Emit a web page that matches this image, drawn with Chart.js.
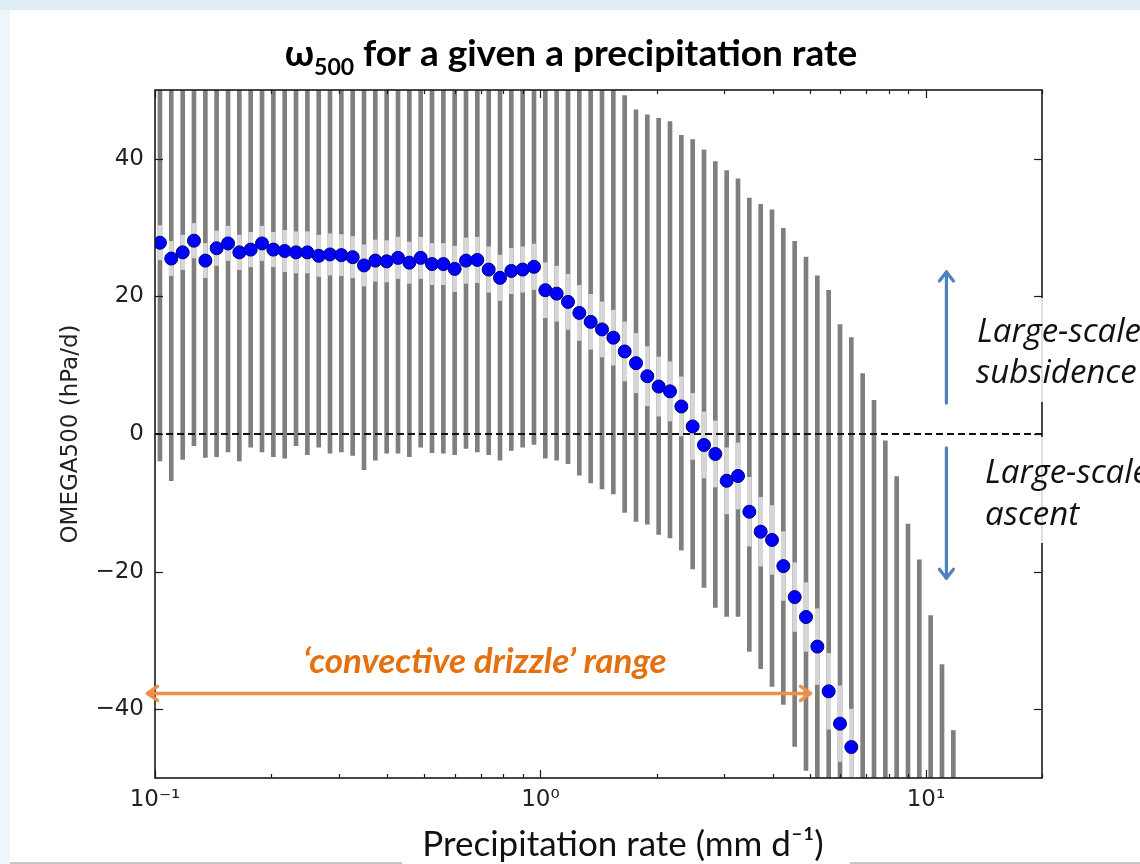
<!DOCTYPE html>
<html>
<head>
<meta charset="utf-8">
<script src="https://cdn.jsdelivr.net/npm/chart.js@4.4.1/dist/chart.umd.min.js"></script>
<style>
  html, body { margin: 0; padding: 0; background: #fff; }
</style>
</head>
<body>
<canvas id="grafico" width="1140" height="864"></canvas>
<script>
// precipitation bins (mm/d)
const precip = [
  0.1030, 0.1102, 0.1180, 0.1262, 0.1351, 0.1445, 0.1547, 0.1655, 0.1771, 0.1895,
  0.2028, 0.2170, 0.2322, 0.2485, 0.2659, 0.2844, 0.3044, 0.3257, 0.3485, 0.3729,
  0.3990, 0.4270, 0.4569, 0.4889, 0.5231, 0.5598, 0.5990, 0.6409, 0.6858, 0.7339,
  0.7852, 0.8402, 0.8990, 0.9620, 1.0294, 1.1015, 1.1786, 1.2612, 1.3495, 1.4440,
  1.5452, 1.6534, 1.7693, 1.8932, 2.0258, 2.1677, 2.3195, 2.4820, 2.6558, 2.8418,
  3.0409, 3.2539, 3.4819, 3.7257, 3.9867, 4.2658, 4.5646, 4.8843, 5.2264, 5.5925,
  5.9841, 6.4033, 6.8518, 7.3317, 7.8452, 8.3946, 8.9826, 9.6117, 10.285, 11.005,
  11.776
];

// mean omega500 (hPa/d), only bins that fall inside the plot
const omega = [
  27.8, 25.5, 26.4, 28.1, 25.2, 27.0, 27.7, 26.4, 26.8, 27.7,
  26.8, 26.6, 26.4, 26.4, 25.9, 26.1, 26.0, 25.7, 24.5, 25.2,
  25.1, 25.6, 24.9, 25.6, 24.7, 24.7, 24.0, 25.2, 25.3, 23.9,
  22.7, 23.7, 23.9, 24.3, 20.9, 20.4, 19.2, 17.6, 16.3, 15.2,
  14.0, 12.0, 10.3, 8.4, 6.9, 6.2, 4.0, 1.1, -1.6, -2.9,
  -6.8, -6.1, -11.3, -14.2, -15.4, -19.2, -23.7, -26.6, -30.9, -37.4,
  -42.1, -45.5
];

// half width of the light band around the mean
const innerHalf = [
  2.5, 2.5, 2.5, 2.5, 2.5, 2.5, 2.5, 2.5, 2.5, 2.5,
  2.5, 3.0, 3.0, 3.0, 3.0, 3.0, 3.0, 3.0, 3.0, 3.0,
  3.0, 3.0, 3.0, 3.0, 3.0, 3.0, 3.3, 3.3, 3.3, 3.3,
  3.3, 3.3, 3.3, 3.3, 4.0, 4.0, 4.0, 4.0, 4.0, 4.0,
  4.0, 4.3, 4.3, 4.3, 4.3, 4.3, 4.3, 4.8, 4.8, 4.8,
  4.8, 4.8, 5.0, 5.0, 5.0, 5.0, 5.0, 5.0, 5.5, 5.5,
  5.5, 5.5
];

// full spread of each bin (grey bars)
const barMin = [
  -3.9, -6.8, -3.7, -1.7, -3.4, -3.3, -2.6, -3.9, -1.9, -2.6,
  -3.3, -3.5, -1.7, -3.0, -1.9, -2.8, -2.6, -3.1, -5.2, -3.8,
  -2.8, -2.8, -3.3, -1.9, -2.7, -2.8, -3.0, -2.1, -2.6, -3.0,
  -3.8, -2.4, -1.9, -1.5, -3.5, -3.8, -4.3, -6.0, -7.1, -8.0,
  -8.7, -11.4, -12.7, -13.1, -14.6, -15.1, -16.9, -19.6, -22.3, -25.2,
  -26.5, -26.5, -31.6, -34.1, -36.7, -39.3, -45.4, -48.9, -60, -60,
  -60, -60, -60, -60, -60, -60, -60, -60, -60, -60,
  -60
];
const barMax = [
  60, 60, 60, 60, 60, 60, 60, 60, 60, 60,
  60, 60, 60, 60, 60, 60, 60, 60, 60, 60,
  60, 60, 60, 60, 60, 60, 60, 60, 60, 60,
  60, 60, 60, 60, 60, 60, 60, 60, 60, 60,
  60, 49.2, 47.1, 46.4, 45.9, 45.4, 43.4, 42.8, 41.3, 39.6,
  38.3, 37.1, 34.3, 33.4, 32.6, 29.9, 28.0, 25.7, 23.0, 20.9,
  15.9, 14.0, 8.8, 4.9, -1.0, -6.2, -13.1, -18.3, -26.4, -33.5,
  -43.1
];

const xMin = 0.1, xMax = 20;
const yMin = -50, yMax = 50;
const yTicks = [-40, -20, 0, 20, 40];
const xMajor = [0.1, 1, 10];
const xMajorLabels = ["10⁻¹", "10⁰", "10¹"];
const xMinor = [0.2, 0.3, 0.4, 0.5, 0.6, 0.7, 0.8, 0.9, 2, 3, 4, 5, 6, 7, 8, 9, 20];

// annotation anchors (data units)
const drizzleFrom = 0.095, drizzleTo = 5.05, drizzleY = -37.7;
const arrowX = 11.3;
const upArrow = [4.5, 23.7];
const downArrow = [-2.0, -21.1];

const rangeData = precip.map((x, i) => ({ x: x, y: [barMin[i], barMax[i]] }));
const innerData = omega.map((w, i) => ({ x: precip[i], y: [w - innerHalf[i], w + innerHalf[i]] }));
const pointData = omega.map((w, i) => ({ x: precip[i], y: w }));
const zeroData = [{ x: xMin, y: 0 }, { x: xMax, y: 0 }];

function line(ctx, x1, y1, x2, y2) {
  ctx.beginPath();
  ctx.moveTo(x1, y1);
  ctx.lineTo(x2, y2);
  ctx.stroke();
}

const decor = {
  id: "decor",

  beforeDraw(chart) {
    const ctx = chart.ctx;
    ctx.save();
    ctx.fillStyle = "#deeef4";
    ctx.fillRect(0, 0, 1140, 864);
    ctx.fillStyle = "#eef6f9";
    ctx.fillRect(0, 10, 10, 854);
    ctx.fillStyle = "#ffffff";
    ctx.fillRect(10, 10, 1130, 854);
    ctx.strokeStyle = "#c6c6c6";
    ctx.lineWidth = 2;
    line(ctx, 10, 863, 1140, 863);
    ctx.fillStyle = "#ffffff";
    ctx.fillRect(402, 852, 448, 12);
    ctx.restore();
  },

  afterDatasetsDraw(chart) {
    const ctx = chart.ctx;
    const { left, right, top, bottom } = chart.chartArea;
    const xs = chart.scales.x;
    const ys = chart.scales.y;
    ctx.save();
    ctx.strokeStyle = "#1a1a1a";
    ctx.lineWidth = 1.2;
    xs.ticks.forEach((t) => {
      const px = Math.round(xs.getPixelForValue(t.value)) + 0.5;
      const len = xMajor.includes(t.value) ? 8 : 4;
      line(ctx, px, bottom, px, bottom - len);
      line(ctx, px, top, px, top + len);
    });
    ys.ticks.forEach((t) => {
      const py = Math.round(ys.getPixelForValue(t.value)) + 0.5;
      line(ctx, left, py, left + 8, py);
      line(ctx, right, py, right - 8, py);
    });
    ctx.lineWidth = 1.6;
    ctx.strokeRect(left, top, right - left, bottom - top);
    ctx.restore();
  },

  afterDraw(chart) {
    const ctx = chart.ctx;
    const xs = chart.scales.x;
    const ys = chart.scales.y;
    ctx.save();

    // title with subscript
    const partA = "ω", partSub = "500", partB = " for a given a precipitation rate";
    const bigFont = "bold 37px Lato";
    const subFont = "bold 23px Lato";
    ctx.font = bigFont;
    const wA = ctx.measureText(partA).width;
    const wB = ctx.measureText(partB).width;
    ctx.font = subFont;
    const wS = ctx.measureText(partSub).width;
    let tx = 571 - (wA + wS + wB) / 2;
    ctx.fillStyle = "#000";
    ctx.textBaseline = "alphabetic";
    ctx.textAlign = "left";
    ctx.font = bigFont;
    ctx.fillText(partA, tx, 66);
    ctx.font = subFont;
    ctx.fillText(partSub, tx + wA, 75);
    ctx.font = bigFont;
    ctx.fillText(partB, tx + wA + wS, 66);

    // x axis title
    ctx.font = "35px Lato";
    ctx.textAlign = "center";
    ctx.fillStyle = "#111";
    ctx.fillText("Precipitation rate (mm d⁻¹)", 623, 856);

    // convective drizzle arrow
    const ay = ys.getPixelForValue(drizzleY);
    const ax1 = xs.getPixelForValue(drizzleFrom);
    const ax2 = xs.getPixelForValue(drizzleTo);
    ctx.strokeStyle = "#f28d45";
    ctx.lineWidth = 3.5;
    ctx.lineCap = "round";
    ctx.lineJoin = "round";
    line(ctx, ax1 + 2, ay, ax2 - 2, ay);
    ctx.beginPath();
    ctx.moveTo(ax1 + 11, ay - 7);
    ctx.lineTo(ax1 + 1, ay);
    ctx.lineTo(ax1 + 11, ay + 7);
    ctx.stroke();
    ctx.beginPath();
    ctx.moveTo(ax2 - 11, ay - 7);
    ctx.lineTo(ax2 - 1, ay);
    ctx.lineTo(ax2 - 11, ay + 7);
    ctx.stroke();
    ctx.font = "italic bold 35px Lato";
    ctx.fillStyle = "#e5700f";
    ctx.textAlign = "center";
    ctx.fillText("‘convective drizzle’ range", 485, 673);

    // subsidence / ascent arrows
    const bx = xs.getPixelForValue(arrowX);
    ctx.strokeStyle = "#4f81bd";
    ctx.lineWidth = 3.2;
    const u0 = ys.getPixelForValue(upArrow[0]);
    const u1 = ys.getPixelForValue(upArrow[1]);
    line(ctx, bx, u0, bx, u1 + 1);
    ctx.beginPath();
    ctx.moveTo(bx - 7, u1 + 10);
    ctx.lineTo(bx, u1 + 1);
    ctx.lineTo(bx + 7, u1 + 10);
    ctx.stroke();
    const d0 = ys.getPixelForValue(downArrow[0]);
    const d1 = ys.getPixelForValue(downArrow[1]);
    line(ctx, bx, d0, bx, d1 - 1);
    ctx.beginPath();
    ctx.moveTo(bx - 7, d1 - 10);
    ctx.lineTo(bx, d1 - 1);
    ctx.lineTo(bx + 7, d1 - 10);
    ctx.stroke();

    // text boxes on the right
    ctx.fillStyle = "rgba(255,255,255,0.82)";
    ctx.fillRect(970, 298, 170, 104);
    ctx.fillRect(970, 437, 170, 106);
    ctx.fillStyle = "#111";
    ctx.textAlign = "left";
    ctx.font = "italic 33px 'Open Sans'";
    ctx.fillText("Large-scale", 977, 342);
    ctx.fillText("subsidence", 976, 383);
    ctx.fillText("Large-scale", 985, 483);
    ctx.fillText("ascent", 985, 525);

    ctx.restore();
  },
};

const ctx = document.getElementById("grafico");

const grafico = new Chart(ctx, {
  type: "scatter",

  data: {
    datasets: [
      {
        type: "bar",
        label: "spread",
        data: rangeData,
        backgroundColor: "#7f7f7f",
        borderWidth: 0,
        barThickness: 4,
        grouped: false,
        order: 4,
      },
      {
        type: "bar",
        label: "error",
        data: innerData,
        backgroundColor: "#d6d6d6",
        borderWidth: 0,
        barThickness: 4,
        grouped: false,
        order: 3,
      },
      {
        type: "line",
        label: "zero",
        data: zeroData,
        borderColor: "#111",
        borderWidth: 1.8,
        borderDash: [7, 4],
        pointRadius: 0,
        fill: false,
        order: 2,
      },
      {
        type: "scatter",
        label: "OMEGA500",
        data: pointData,
        backgroundColor: "#0000ff",
        borderColor: "#00007a",
        borderWidth: 1,
        pointRadius: 6.5,
        order: 1,
      },
    ],
  },

  plugins: [decor],

  options: {
    responsive: false,
    devicePixelRatio: 1,
    animation: false,

    layout: {
      padding: { top: 90, right: 98, left: 0, bottom: 0 },
    },

    plugins: {
      legend: { display: false },
      tooltip: { enabled: false },
    },

    scales: {
      x: {
        type: "logarithmic",
        min: xMin,
        max: xMax,
        offset: false,
        grid: { display: false, drawTicks: false },
        border: { display: false },
        afterBuildTicks: (scale) => {
          scale.ticks = xMajor.concat(xMinor).sort((a, b) => a - b).map((v) => ({ value: v }));
        },
        afterFit: (scale) => {
          scale.height = 86;
        },
        ticks: {
          autoSkip: false,
          maxRotation: 0,
          padding: 8,
          color: "#222",
          font: { family: "DejaVu Sans", size: 23 },
          callback: (value) => {
            const k = xMajor.indexOf(value);
            return k >= 0 ? xMajorLabels[k] : "";
          },
        },
      },

      y: {
        type: "linear",
        min: yMin,
        max: yMax,
        grid: { display: false, drawTicks: false },
        border: { display: false },
        afterBuildTicks: (scale) => {
          scale.ticks = yTicks.map((v) => ({ value: v }));
        },
        afterFit: (scale) => {
          scale.width = 155;
        },
        title: {
          display: true,
          text: "OMEGA500 (hPa/d)",
          color: "#222",
          font: { family: "DejaVu Sans", size: 23 },
          padding: { top: 57, bottom: 0 },
        },
        ticks: {
          padding: 11,
          color: "#222",
          font: { family: "DejaVu Sans", size: 23 },
          callback: (value) => (value < 0 ? "\u2212" + Math.abs(value) : String(value)),
        },
      },
    },
  },
});
</script>
</body>
</html>
